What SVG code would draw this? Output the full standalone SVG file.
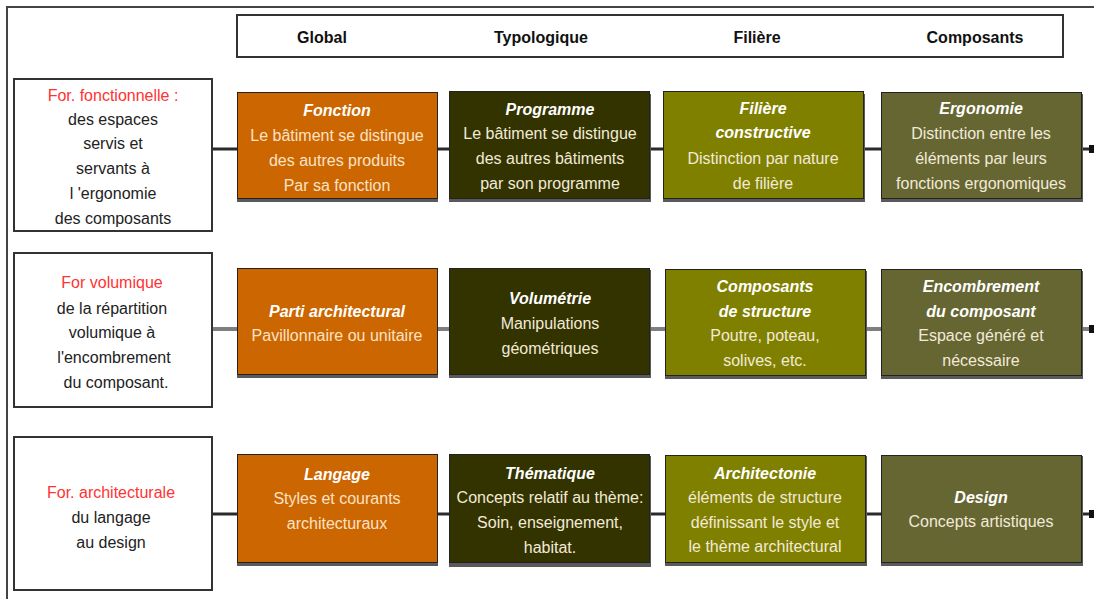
<svg xmlns="http://www.w3.org/2000/svg" width="1094" height="599" viewBox="0 0 1094 599">
<defs>
<style>
text{font-family:"Liberation Sans",Arial,sans-serif;font-size:16px;text-anchor:middle}
.hd{font-weight:bold;fill:#111}
.lb{fill:#fff;stroke:#333;stroke-width:2}
.lt{fill:#222}
.red{fill:#ff3333}
.t{fill:#fff;font-style:italic;font-weight:bold}
.b{fill:#f2ead8}
.bo{fill:#fbe2c6}
.c1{fill:#cc6600}
.c2{fill:#333300}
.c3{fill:#808000}
.c4{fill:#666633}
.bx{stroke:#222;stroke-width:1}
.sh{fill:#5a5a5a}
.cn{stroke:#2a2a2a;stroke-width:3;fill:none}
.cg{stroke:#7f7f7f;stroke-width:4;fill:none}
</style>
</defs>
<rect width="1094" height="599" fill="#fff"/>
<path d="M7,599 V7 H1094" fill="none" stroke="#444" stroke-width="2"/>

<g id="header">
<rect x="237" y="15" width="826" height="42" fill="#fff" stroke="#333" stroke-width="2"/>
<text class="hd" x="322" y="43">Global</text>
<text class="hd" x="541" y="43">Typologique</text>
<text class="hd" x="757" y="43">Filière</text>
<text class="hd" x="975" y="43">Composants</text>
</g>

<g id="connectors">
<path class="cn" d="M212,149 H237 M437,149 H449 M650,149 H663 M864,149 H881 M1082,149 H1094"/>
<rect x="1089" y="145" width="5" height="8" fill="#111"/>
<path class="cg" d="M212,329 H237 M437,329 H449 M650,329 H665 M866,329 H881 M1082,329 H1094"/>
<rect x="1089" y="325" width="5" height="8" fill="#111"/>
<path class="cn" d="M212,514 H237 M437,514 H449 M650,514 H665 M866,514 H881 M1082,514 H1094"/>
<rect x="1089" y="510" width="5" height="8" fill="#111"/>
</g>

<g id="left-1">
<rect class="lb" x="14" y="79" width="198" height="152"/>
<text class="red" x="113" y="101">For. fonctionnelle :</text>
<text class="lt" x="113" y="125">des espaces</text>
<text class="lt" x="113" y="149">servis et</text>
<text class="lt" x="113" y="174">servants à</text>
<text class="lt" x="113" y="199">l 'ergonomie</text>
<text class="lt" x="113" y="224">des composants</text>
</g>
<g id="left-2">
<rect class="lb" x="14" y="253" width="198" height="154"/>
<text class="red" x="112" y="288">For volumique</text>
<text class="lt" x="112" y="314">de la répartition</text>
<text class="lt" x="112" y="338">volumique à</text>
<text class="lt" x="114" y="363">l'encombrement</text>
<text class="lt" x="116" y="388">du composant.</text>
</g>
<g id="left-3">
<rect class="lb" x="14" y="437" width="198" height="153"/>
<text class="red" x="111" y="498">For. architecturale</text>
<text class="lt" x="111" y="523">du langage</text>
<text class="lt" x="111" y="548">au design</text>
</g>

<!-- Row 1 -->
<g id="fonction">
<rect class="sh" x="237" y="94" width="201" height="108"/>
<rect class="c1 bx" x="237.5" y="92.5" width="200" height="106"/>
<text class="t" x="337" y="116">Fonction</text>
<text class="bo" x="337" y="141">Le bâtiment se distingue</text>
<text class="bo" x="337" y="166">des autres produits</text>
<text class="bo" x="337" y="191">Par sa fonction</text>
</g>
<g id="programme">
<rect class="sh" x="449" y="94" width="202" height="108"/>
<rect class="c2 bx" x="449.5" y="91.5" width="200" height="107"/>
<text class="t" x="550" y="115">Programme</text>
<text class="b" x="550" y="139">Le bâtiment se distingue</text>
<text class="b" x="550" y="164">des autres bâtiments</text>
<text class="b" x="550" y="189">par son programme</text>
</g>
<g id="filiere">
<rect class="sh" x="663" y="94" width="202" height="108"/>
<rect class="c3 bx" x="663.5" y="91.5" width="200" height="107"/>
<text class="t" x="763" y="114">Filière</text>
<text class="t" x="763" y="138">constructive</text>
<text class="b" x="763" y="164">Distinction par nature</text>
<text class="b" x="763" y="189">de filière</text>
</g>
<g id="ergonomie">
<rect class="sh" x="881" y="94" width="202" height="108"/>
<rect class="c4 bx" x="881.5" y="92.5" width="200" height="106"/>
<text class="t" x="981" y="114">Ergonomie</text>
<text class="b" x="981" y="139">Distinction entre les</text>
<text class="b" x="981" y="164">éléments par leurs</text>
<text class="b" x="981" y="189">fonctions ergonomiques</text>
</g>

<!-- Row 2 -->
<g id="parti">
<rect class="sh" x="237" y="270" width="201" height="108"/>
<rect class="c1 bx" x="237.5" y="268.5" width="200" height="106"/>
<text class="t" x="337" y="317">Parti architectural</text>
<text class="bo" x="337" y="341">Pavillonnaire ou unitaire</text>
</g>
<g id="volumetrie">
<rect class="sh" x="449" y="270" width="202" height="108"/>
<rect class="c2 bx" x="449.5" y="268.5" width="200" height="106"/>
<text class="t" x="550" y="304">Volumétrie</text>
<text class="b" x="550" y="329">Manipulations</text>
<text class="b" x="550" y="354">géométriques</text>
</g>
<g id="composants-structure">
<rect class="sh" x="665" y="271" width="202" height="108"/>
<rect class="c3 bx" x="665.5" y="269.5" width="200" height="106"/>
<text class="t" x="765" y="292">Composants</text>
<text class="t" x="765" y="317">de structure</text>
<text class="b" x="765" y="341">Poutre, poteau,</text>
<text class="b" x="765" y="366">solives, etc.</text>
</g>
<g id="encombrement">
<rect class="sh" x="881" y="271" width="202" height="108"/>
<rect class="c4 bx" x="881.5" y="269.5" width="200" height="106"/>
<text class="t" x="981" y="292">Encombrement</text>
<text class="t" x="981" y="317">du composant</text>
<text class="b" x="981" y="341">Espace généré et</text>
<text class="b" x="981" y="366">nécessaire</text>
</g>

<!-- Row 3 -->
<g id="langage">
<rect class="sh" x="237" y="456" width="201" height="110"/>
<rect class="c1 bx" x="237.5" y="454.5" width="200" height="108"/>
<text class="t" x="337" y="480">Langage</text>
<text class="bo" x="337" y="504">Styles et courants</text>
<text class="bo" x="337" y="529">architecturaux</text>
</g>
<g id="thematique">
<rect class="sh" x="449" y="456" width="202" height="111"/>
<rect class="c2 bx" x="449.5" y="454.5" width="200" height="108"/>
<text class="t" x="550" y="479">Thématique</text>
<text class="b" x="550" y="503">Concepts relatif au thème:</text>
<text class="b" x="550" y="528">Soin, enseignement,</text>
<text class="b" x="550" y="553">habitat.</text>
</g>
<g id="architectonie">
<rect class="sh" x="665" y="456" width="202" height="110"/>
<rect class="c3 bx" x="665.5" y="455.5" width="200" height="107"/>
<text class="t" x="765" y="479">Architectonie</text>
<text class="b" x="765" y="503">éléments de structure</text>
<text class="b" x="765" y="528">définissant le style et</text>
<text class="b" x="765" y="552">le thème architectural</text>
</g>
<g id="design">
<rect class="sh" x="881" y="456" width="202" height="110"/>
<rect class="c4 bx" x="881.5" y="455.5" width="200" height="107"/>
<text class="t" x="981" y="503">Design</text>
<text class="b" x="981" y="527">Concepts artistiques</text>
</g>
</svg>
